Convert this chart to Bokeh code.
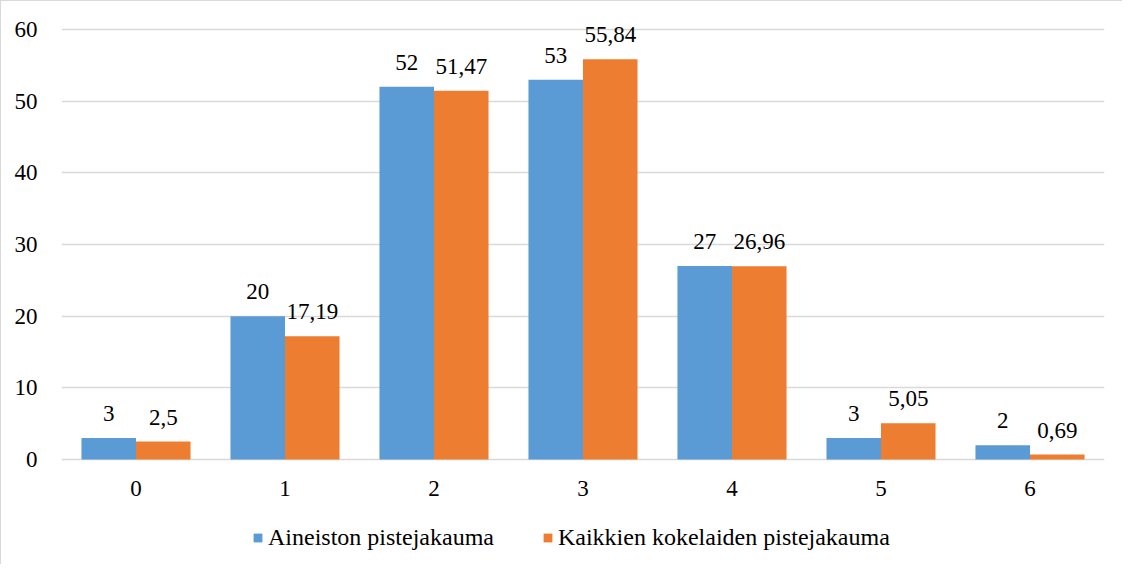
from bokeh.plotting import figure
from bokeh.models import ColumnDataSource, FactorRange, FixedTicker, LabelSet, Legend, LegendItem, Range1d
from bokeh.transform import dodge
from bokeh.core.properties import value
from bokeh.embed import file_html
from bokeh.resources import INLINE

categories = ["0", "1", "2", "3", "4", "5", "6"]
aineisto = [3, 20, 52, 53, 27, 3, 2]
kaikki = [2.5, 17.19, 51.47, 55.84, 26.96, 5.05, 0.69]
series_names = ["Aineiston pistejakauma", "Kaikkien kokelaiden pistejakauma"]
y_ticks = [0, 10, 20, 30, 40, 50, 60]

BLUE = "#5B9BD5"
ORANGE = "#ED7D31"
FONT = "Liberation Serif"
FS = "23px"

# layout (pixels)
H = 564
TOP_PX = 28       # pixel row of y = 60
ZERO_PX = 458     # pixel row of y = 0
Y_TICK_MAX = 60
px_per_unit = (ZERO_PX - TOP_PX) / Y_TICK_MAX
y_min = -(H - ZERO_PX) / px_per_unit
y_max = Y_TICK_MAX + TOP_PX / px_per_unit


def fmt(v):
    return ("%g" % v).replace(".", ",")


src = ColumnDataSource(dict(
    cat=categories,
    a=aineisto,
    k=kaikki,
    a_lab=[fmt(v) for v in aineisto],
    k_lab=[fmt(v) for v in kaikki],
))

p = figure(
    x_range=FactorRange(*categories, range_padding=0),
    y_range=Range1d(y_min, y_max),
    width=1122, height=H,
    output_backend="svg", toolbar_location=None,
    min_border_left=60, min_border_right=19,
    min_border_top=0, min_border_bottom=0,
    styles={"border-left": "1px solid #d9d9d9", "border-top": "1px solid #d9d9d9"},
)
p.outline_line_color = None
p.background_fill_color = "white"
p.border_fill_color = "white"

OFF = 0.183
W = 0.366
r1 = p.vbar(x=dodge("cat", -OFF, range=p.x_range), top="a", bottom=0, width=W, source=src,
            fill_color=BLUE, line_color=None)
r2 = p.vbar(x=dodge("cat", OFF, range=p.x_range), top="k", bottom=0, width=W, source=src,
            fill_color=ORANGE, line_color=None)

for field, off in (("a_lab", -OFF), ("k_lab", OFF)):
    top = "a" if field == "a_lab" else "k"
    lbl = LabelSet(x=dodge("cat", off, range=p.x_range), y=top, text=field, source=src,
                   text_align="center", text_baseline="alphabetic", y_offset=17,
                   text_font=value(FONT), text_font_size=FS, text_color="#000000")
    p.add_layout(lbl)

p.xgrid.grid_line_color = None
p.ygrid.ticker = FixedTicker(ticks=y_ticks)
p.ygrid.grid_line_color = "#d9d9d9"
p.ygrid.grid_line_width = 1.5

p.yaxis.ticker = FixedTicker(ticks=y_ticks)
p.xaxis.fixed_location = 0
for ax in (p.xaxis, p.yaxis):
    ax.axis_line_color = None
    ax.major_tick_line_color = None
    ax.minor_tick_line_color = None
    ax.major_label_text_font = FONT
    ax.major_label_text_font_size = FS
    ax.major_label_text_color = "#000000"
p.yaxis.major_label_standoff = 18
p.xaxis.major_label_standoff = 15

legend = Legend(
    items=[LegendItem(label=series_names[0], renderers=[r1]),
           LegendItem(label=series_names[1], renderers=[r2])],
    orientation="horizontal", location=(191, 14),
    padding=0, margin=0, spacing=48,
    glyph_width=11, glyph_height=11, label_standoff=5, label_height=24,
    label_text_font=FONT, label_text_font_size="24px", label_text_color="#000000",
    border_line_color=None, background_fill_alpha=0,
)
p.add_layout(legend, "center")

open("out.html", "w").write(file_html(p, INLINE))
